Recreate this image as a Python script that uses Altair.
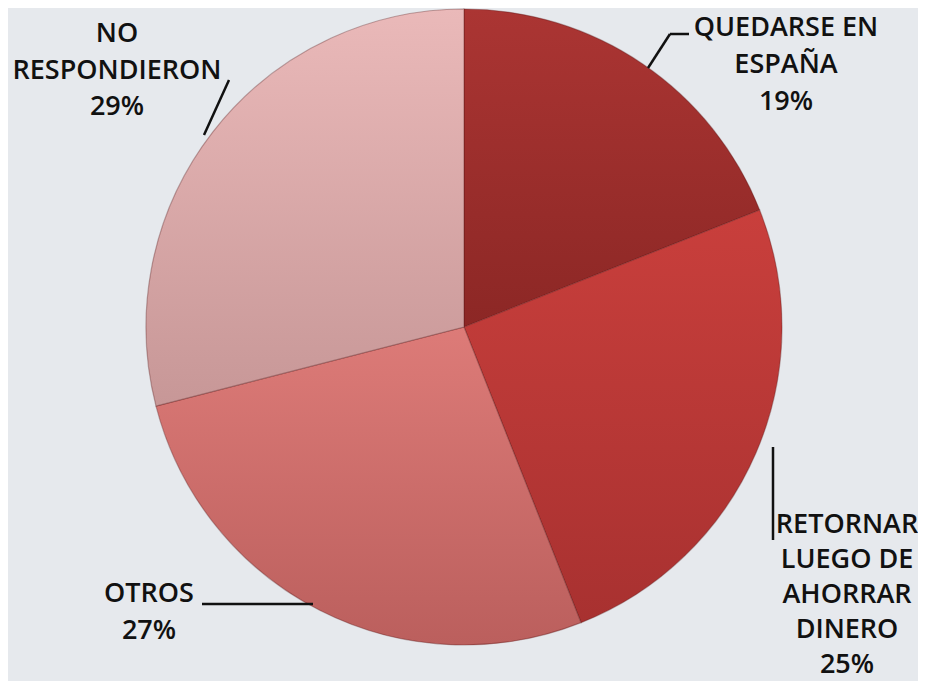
import altair as alt
import pandas as pd

# ---- data ----
categories = ["QUEDARSE EN ESPAÑA", "RETORNAR LUEGO DE AHORRAR DINERO", "OTROS", "NO RESPONDIERON"]
label_lines = ["QUEDARSE EN\nESPAÑA", "RETORNAR\nLUEGO DE\nAHORRAR\nDINERO", "OTROS", "NO\nRESPONDIERON"]
percents = [19, 25, 27, 29]
order = [1, 2, 3, 4]

# ---- styles ----
top_colors = ["#ab3533", "#c93f3c", "#dd7b78", "#eab9b9"]
bottom_colors = ["#8c2725", "#a83130", "#bb5f5d", "#c79797"]

W, H = 910, 673
CX, CY, R = 456, 319, 318
FONT = "Open Sans"

df = pd.DataFrame({"cat": categories, "lines": label_lines, "pct": percents, "ord": order})

base = (
    alt.Chart(df)
    .transform_window(end="sum(pct)", sort=[alt.SortField("ord")], frame=[None, 0])
    .transform_calculate(start="datum.end - datum.pct",
                         txt="datum.lines + '\\n' + datum.pct + '%'")
)

theta_scale = alt.Scale(domain=[0, 100], range=[0, 6.283185307179586])

layers = []
for cat, c1, c2 in zip(categories, top_colors, bottom_colors):
    grad = alt.LinearGradient(
        gradient="linear",
        stops=[alt.GradientStop(color=c1, offset=0), alt.GradientStop(color=c2, offset=1)],
        x1=0, x2=0, y1=0, y2=1,
    )
    layers.append(
        base.transform_filter(alt.datum.cat == cat)
        .mark_arc(radius=R, fill=grad, stroke="#5a1616", strokeOpacity=0.35, strokeWidth=1.2)
        .encode(
            theta=alt.Theta("start:Q", scale=theta_scale),
            theta2="end:Q",
            x=alt.value(CX),
            y=alt.value(CY),
        )
    )

# labels (text from data); y is the centre of the first line
label_pos = {
    "QUEDARSE EN ESPAÑA": (778, 20, 37),
    "RETORNAR LUEGO DE AHORRAR DINERO": (839, 517, 35),
    "OTROS": (141, 586, 37),
    "NO RESPONDIERON": (109, 26, 36.5),
}
for cat in categories:
    lx, ly, lh = label_pos[cat]
    layers.append(
        base.transform_filter(alt.datum.cat == cat)
        .mark_text(font=FONT, fontSize=27, fontWeight=600, color="#111111",
                   align="center", baseline="middle", lineBreak="\n", lineHeight=lh)
        .encode(text="txt:N", x=alt.value(lx), y=alt.value(ly))
    )

# leader lines
def rule(x1, y1, x2, y2):
    return (
        alt.Chart(df.head(1))
        .mark_rule(color="#111111", strokeWidth=2.5)
        .encode(x=alt.value(x1), y=alt.value(y1), x2=alt.value(x2), y2=alt.value(y2))
    )

layers += [
    rule(640, 60, 662, 26),
    rule(662, 26, 681, 26),
    rule(196, 127, 221, 72),
    rule(765, 439, 765, 532),
    rule(194, 596, 305, 596),
]

chart = (
    alt.layer(*layers)
    .properties(width=W, height=H, padding=0, background="#e6e9ed",
                autosize=alt.AutoSizeParams(type="none"))
    .configure_view(stroke=None)
)

chart.save("out.html", embed_options={"renderer": "svg", "actions": False})
